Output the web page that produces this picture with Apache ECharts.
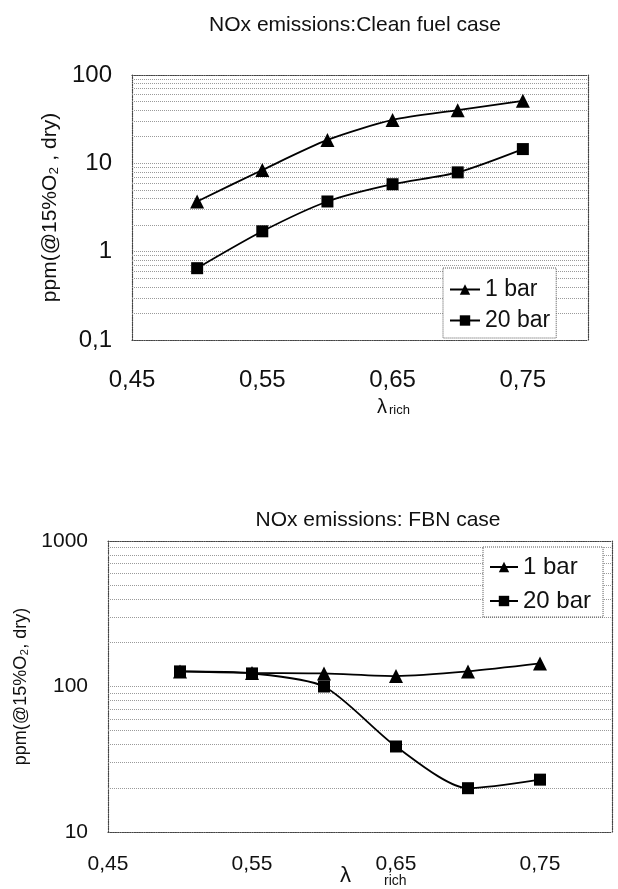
<!DOCTYPE html>
<html><head><meta charset="utf-8">
<script src="https://cdn.jsdelivr.net/npm/echarts@6/dist/echarts.min.js"></script>
<style>html,body{margin:0;padding:0;background:#fff}#c{width:618px;height:889px}</style>
</head><body><div id="c"></div>
<script>
// ---- data ----
const xLambda = [0.50, 0.55, 0.60, 0.65, 0.70, 0.75];
const clean1bar = [3.7, 8.4, 18.4, 31, 40, 51];
const clean20bar = [0.65, 1.7, 3.7, 5.8, 7.9, 14.5];
const fbn1bar = [127, 124, 123, 118, 127, 144];
const fbn20bar = [127, 123, 100, 38.7, 20, 22.9];
const xTickLabels = ['0,45', '0,55', '0,65', '0,75'];
const xTickValues = [0.45, 0.55, 0.65, 0.75];
const seriesNames = ['1 bar', '20 bar'];

const FONT = 'Liberation Sans, Arial, sans-serif';
const zip = (xs, ys) => xs.map((x, i) => [x, ys[i]]);
function minorValues(lo, hi) {
  const v = [];
  for (let d = lo; d < hi; d *= 10) for (let k = 2; k <= 9; k++) v.push(+(k * d).toPrecision(3));
  return v;
}
const gridLine = { color: '#9a9a9a', type: 'dotted', width: 1 };
const borderLine = { color: '#444', type: 'dotted', width: 1.2 };

function xAxisDef(gi, fs, margin) {
  return [{
    type: 'value', gridIndex: gi, min: 0.45, max: 0.8, interval: 0.1,
    axisLine: { show: true, lineStyle: borderLine }, axisTick: { show: false },
    splitLine: { show: false },
    axisLabel: {
      fontFamily: FONT, fontSize: fs, color: '#111', margin: margin, showMaxLabel: false,
      formatter: v => { const i = xTickValues.findIndex(t => Math.abs(t - v) < 1e-6); return i >= 0 ? xTickLabels[i] : ''; }
    }
  }, {
    type: 'value', gridIndex: gi, min: 0.45, max: 0.8, position: 'top',
    axisLine: { show: true, onZero: false, lineStyle: borderLine }, axisTick: { show: false },
    axisLabel: { show: false }, splitLine: { show: false }
  }];
}
function yAxisDef(gi, min, max, name, gap, fs, nfs) {
  return [{
    type: 'log', logBase: 10, gridIndex: gi, min: min, max: max,
    axisLine: { show: true, lineStyle: borderLine }, axisTick: { show: false },
    splitLine: { show: true, lineStyle: gridLine },
    axisLabel: { fontFamily: FONT, fontSize: fs, color: '#111', margin: 20,
      formatter: v => String(v).replace('.', ',') },
    name: name, nameLocation: 'middle', nameRotate: 90, nameGap: gap,
    nameTextStyle: { fontFamily: FONT, fontSize: nfs, color: '#111' }
  }, {
    type: 'log', logBase: 10, gridIndex: gi, min: min, max: max, position: 'right',
    axisLine: { show: true, lineStyle: borderLine }, axisTick: { show: false },
    axisLabel: { show: false }, splitLine: { show: false }
  }];
}
function lineSeries(name, gi, xs, ys, symbol, size) {
  return {
    name: name, type: 'line', xAxisIndex: gi * 2, yAxisIndex: gi * 2,
    data: zip(xs, ys), symbol: symbol, symbolSize: size, smooth: 0.25,
    itemStyle: { color: '#000' }, lineStyle: { color: '#000', width: 1.8 },
    animation: false, z: 5
  };
}
function minorSeries(gi, lo, hi) {
  return {
    type: 'line', xAxisIndex: gi * 2, yAxisIndex: gi * 2, data: [], silent: true, animation: false, z: 1,
    markLine: { silent: true, symbol: 'none', label: { show: false }, animation: false, z: 1,
      lineStyle: gridLine, data: minorValues(lo, hi).map(v => ({ yAxis: v })) }
  };
}
const legendBase = {
  orient: 'vertical', itemWidth: 30, itemHeight: 13, z: 20,
  backgroundColor: '#fff', borderColor: '#555', borderWidth: 1, borderType: 'dotted',
  data: seriesNames
};

const option = {
  backgroundColor: '#fff',
  animation: false,
  title: [
    { text: 'NOx emissions:Clean fuel case', left: 350, top: 10, textAlign: 'center',
      textStyle: { fontFamily: FONT, fontSize: 21, fontWeight: 'normal', color: '#111' } },
    { text: 'NOx emissions: FBN case', left: 373, top: 505, textAlign: 'center',
      textStyle: { fontFamily: FONT, fontSize: 21, fontWeight: 'normal', color: '#111' } }
  ],
  grid: [
    { left: 132, top: 75, width: 456, height: 265 },
    { left: 108, top: 541, width: 504, height: 291 }
  ],
  xAxis: [...xAxisDef(0, 24, 28), ...xAxisDef(1, 21, 22)],
  yAxis: [...yAxisDef(0, 0.1, 100, 'ppm(@15%O\u2082 , dry)', 70, 24, 21),
          ...yAxisDef(1, 10, 1000, 'ppm(@15%O\u2082, dry)', 70, 21, 18)],
  legend: [
    Object.assign({}, legendBase, { left: 443, top: 268, itemGap: 8, padding: [10, 6, 6, 6],
      textStyle: { fontFamily: FONT, fontSize: 23, color: '#111' } }),
    Object.assign({}, legendBase, { left: 483, top: 547, itemGap: 10, itemWidth: 28, padding: [8, 12, 4, 6],
      textStyle: { fontFamily: FONT, fontSize: 24, color: '#111' } })
  ],
  graphic: [
    { type: 'text', left: 377, top: 397, style: { text: '\u03bb', font: '20px ' + FONT, fill: '#111' } },
    { type: 'text', left: 389, top: 404, style: { text: 'rich', font: '13px ' + FONT, fill: '#111' } },
    { type: 'text', left: 340, top: 865, style: { text: '\u03bb', font: '22px ' + FONT, fill: '#111' } },
    { type: 'text', left: 384, top: 874, style: { text: 'rich', font: '14px ' + FONT, fill: '#111' } }
  ],
  series: [
    lineSeries(seriesNames[0], 0, xLambda, clean1bar, 'triangle', 14),
    lineSeries(seriesNames[1], 0, xLambda, clean20bar, 'rect', 12),
    minorSeries(0, 0.1, 100),
    lineSeries(seriesNames[0], 1, xLambda, fbn1bar, 'triangle', 14),
    lineSeries(seriesNames[1], 1, xLambda, fbn20bar, 'rect', 12),
    minorSeries(1, 10, 1000)
  ]
};
const chart = echarts.init(document.getElementById('c'), null, { renderer: 'canvas' });
chart.setOption(option);
</script></body></html>
